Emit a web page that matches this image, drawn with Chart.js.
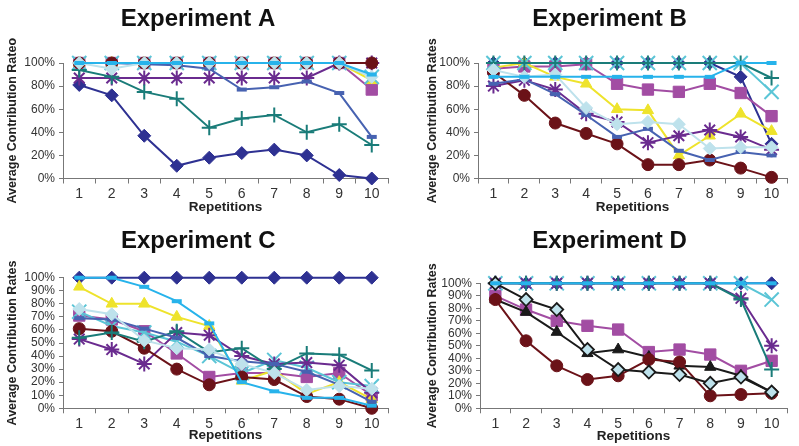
<!DOCTYPE html>
<html><head><meta charset="utf-8">
<script src="https://cdn.jsdelivr.net/npm/chart.js@4.4.1/dist/chart.umd.min.js"></script>
<style>
html,body{margin:0;padding:0;background:#fff;width:799px;height:446px;overflow:hidden}
.c{position:absolute}
</style></head>
<body>
<canvas class="c" id="ca" width="400" height="223" style="left:0;top:0"></canvas>
<canvas class="c" id="cb" width="399" height="223" style="left:400px;top:0"></canvas>
<canvas class="c" id="cc" width="400" height="223" style="left:0;top:223px"></canvas>
<canvas class="c" id="cd" width="399" height="223" style="left:400px;top:223px"></canvas>
<script>
// ---- data ----
const repetitions = ['1','2','3','4','5','6','7','8','9','10'];
const ticksAB = [0,20,40,60,80,100];
const ticksCD = [0,10,20,30,40,50,60,70,80,90,100];

// Experiment A
const aNavy    = [81,72,37,11,18,22,25,20,3,0];
const aMagenta = [100,100,100,100,100,100,100,100,100,77];
const aYellow  = [100,100,100,100,100,100,100,100,100,85];
const aCyanX   = [100,100,100,100,100,100,100,100,100,88];
const aStar    = [87,87,87,87,87,87,87,87,100,100];
const aRed     = [100,100,100,100,100,100,100,100,100,100];
const aTeal    = [94,88,75,69,44,52,55,40,47,29];
const aBlue    = [100,100,99,98,95,77,79,84,74,36];
const aLight   = [100,95,100,100,100,100,100,100,100,88];
const aSky     = [100,100,100,100,100,100,100,100,100,90];

// Experiment B
const bNavy    = [100,100,100,100,100,100,100,100,88,30];
const bMagenta = [95,97,97,99,82,77,75,82,74,54];
const bYellow  = [96,100,88,82,60,59,20,37,56,41];
const bCyanX   = [100,100,100,100,100,100,100,100,100,75];
const bStar    = [80,85,77,56,49,31,37,42,36,25];
const bRed     = [92,72,48,39,30,12,12,16,9,1];
const bTeal    = [100,100,100,100,100,100,100,100,100,87];
const bBlue    = [82,86,73,55,36,43,24,16,23,20];
const bLight   = [94,88,90,61,47,49,47,26,27,27];
const bSky     = [88,88,88,88,88,88,88,88,100,100];

// Experiment C
const cNavy    = [100,100,100,100,100,100,100,100,100,100];
const cMagenta = [71,68,59,42,24,27,27,24,27,10];
const cYellow  = [93,80,80,70,63,21,29,11,20,7];
const cCyanX   = [74,63,58,51,40,27,37,31,20,17];
const cStar    = [53,45,34,58,56,40,34,35,33,12];
const cRed     = [61,59,46,30,18,24,22,9,7,0];
const cTeal    = [54,58,51,59,43,46,30,42,41,29];
const cBlue    = [69,68,61,54,40,36,34,28,18,5];
const cLight   = [76,72,52,46,45,34,27,14,17,15];
const cSky     = [100,100,93,82,65,20,13,8,8,2];

// Experiment D
const dNavy    = [100,100,100,100,100,100,100,100,100,100];
const dMagenta = [90,79,70,66,63,45,47,43,30,38];
const dBlackTri= [87,77,61,44,47,41,34,33,26,13];
const dCyanX   = [100,100,100,100,100,100,100,100,100,87];
const dStar    = [100,100,100,100,100,100,100,100,88,50];
const dRed     = [87,54,34,23,26,39,37,10,11,12];
const dTeal    = [100,100,100,100,100,100,100,100,87,31];
const dLightBk = [100,87,79,47,31,29,27,20,25,13];
const dSky     = [100,100,100,100,100,100,100,100,100,100];

// ---- styles ----
const ST = {
  navy:    {c:'#2E3192', s:'rectRot', r:6.5, bw:1},
  magenta: {c:'#A24DA3', s:'rect', r:8, bw:1},
  yellow:  {c:'#EEE32C', s:'triangle', r:6.5, bw:1},
  cyanX:   {c:'#5BC5D6', s:'crossRot', r:10, bw:2},
  star:    {c:'#6A2B8F', s:'star', r:7.5, bw:2},
  red:     {c:'#6B1218', s:'circle', r:6, bw:1},
  teal:    {c:'#1A7C79', s:'cross', r:7.5, bw:2},
  blue:    {c:'#4762B1', s:'line', r:5, bw:4},
  light:   {c:'#BEE2EC', s:'rectRot', r:6.5, bw:1},
  sky:     {c:'#27B3EB', s:'line', r:5, bw:4},
  blackTri:{c:'#1A1A1A', s:'triangle', r:6.5, bw:1},
  lightBk: {c:'#1A1A1A', fill:'#BEE2EC', s:'rectRot', r:6.5, bw:1.8}
};

function ds(key, data, i, n){
  const st = ST[key];
  return {
    label:key, data:data,
    borderColor:st.c, backgroundColor:st.fill||st.c,
    borderWidth:2, tension:0,
    pointStyle:st.s, pointRadius:st.r, pointHoverRadius:st.r,
    pointBorderColor:st.c, pointBackgroundColor:st.fill||st.c,
    pointBorderWidth:st.bw,
    clip:false, order:n-i
  };
}

const FONT = "'Liberation Sans', Arial, Helvetica, sans-serif";
const panels = [
  {id:'ca', title:'Experiment A', yTitle:'Average Contribution Rateo', ticks:ticksAB,
   series:[['navy',aNavy],['magenta',aMagenta],['yellow',aYellow],['cyanX',aCyanX],['star',aStar],['red',aRed],['teal',aTeal],['blue',aBlue],['light',aLight],['sky',aSky]],
   padL:0, padR:4, yW:63, tTop:5, tBot:29.2, xH:37.3, padB:7.2},
  {id:'cb', title:'Experiment B', yTitle:'Average Contribution Rates', ticks:ticksAB,
   series:[['navy',bNavy],['magenta',bMagenta],['yellow',bYellow],['cyanX',bCyanX],['star',bStar],['red',bRed],['teal',bTeal],['blue',bBlue],['light',bLight],['sky',bSky]],
   padL:20, padR:0, yW:58, tTop:5, tBot:29.2, xH:37.3, padB:7.2},
  {id:'cc', title:'Experiment C', yTitle:'Average Contribution Rates', ticks:ticksCD,
   series:[['navy',cNavy],['magenta',cMagenta],['yellow',cYellow],['cyanX',cCyanX],['star',cStar],['red',cRed],['teal',cTeal],['blue',cBlue],['light',cLight],['sky',cSky]],
   padL:0, padR:3.5, yW:63, tTop:3.6, tBot:22.3, xH:35.5, padB:2.2},
  {id:'cd', title:'Experiment D', yTitle:'Average Contribution Rates', ticks:ticksCD,
   series:[['navy',dNavy],['magenta',dMagenta],['blackTri',dBlackTri],['cyanX',dCyanX],['star',dStar],['red',dRed],['teal',dTeal],['lightBk',dLightBk],['sky',dSky]],
   padL:20, padR:0, yW:60, tTop:3.6, tBot:27.9, xH:36.5, padB:1.2}
];

panels.forEach(p => {
  const n = p.series.length;
  new Chart(document.getElementById(p.id), {
    type:'line',
    data:{labels:repetitions, datasets:p.series.map((s,i)=>ds(s[0], s[1], i, n))},
    options:{
      responsive:false, animation:false,
      layout:{padding:{left:p.padL, right:p.padR, top:0, bottom:p.padB}},
      plugins:{
        legend:{display:false}, tooltip:{enabled:false},
        title:{display:true, text:p.title, color:'#111',
          font:{family:FONT, size:24, weight:'bold'},
          padding:{top:p.tTop, bottom:p.tBot}}
      },
      scales:{
        x:{type:'category', offset:true,
          grid:{display:true, offset:true, drawOnChartArea:false, tickLength:5, color:'#777', lineWidth:1},
          border:{display:true, color:'#777', width:1},
          ticks:{color:'#333', padding:2, maxRotation:0, autoSkip:false, font:{family:FONT, size:14}},
          title:{display:true, text:'Repetitions', color:'#222', padding:0, font:{family:FONT, size:13.5, weight:'bold'}},
          afterFit:s=>{s.height = p.xH;}
        },
        y:{min:0, max:100,
          afterBuildTicks:s=>{s.ticks = p.ticks.map(v=>({value:v}));},
          grid:{display:true, drawOnChartArea:false, tickLength:4, color:'#777', lineWidth:1},
          border:{display:true, color:'#777', width:1},
          ticks:{color:'#333', padding:4, autoSkip:false, font:{family:FONT, size:12}, callback:v=>v+'%'},
          title:{display:true, text:p.yTitle, color:'#222', padding:5, font:{family:FONT, size:12.5, weight:'bold'}},
          afterFit:s=>{s.width = p.yW;}
        }
      }
    }
  });
});
</script>
</body></html>
